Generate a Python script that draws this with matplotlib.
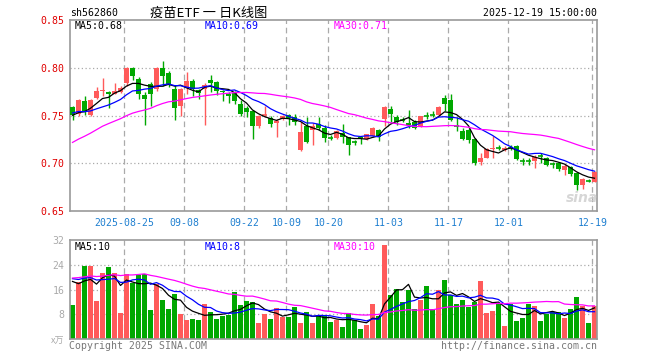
import matplotlib
matplotlib.use('Agg')
import matplotlib.pyplot as plt
import numpy as np
import pandas as pd

# ---------------- data ----------------
symbol = "sh562860"
title = "疫苗ETF 一 日K线图"
timestamp = "2025-12-19 15:00:00"

opens = [0.759, 0.752, 0.765, 0.751, 0.768, 0.776, 0.775, 0.773, 0.775, 0.784,
         0.800, 0.788, 0.771, 0.783, 0.778, 0.800, 0.795, 0.778, 0.760, 0.779,
         0.786, 0.777, 0.778, 0.7875, 0.785, 0.776, 0.7725, 0.7735, 0.762, 0.758,
         0.755, 0.7385, 0.750, 0.7473, 0.742, 0.7465, 0.750, 0.748, 0.714, 0.7392,
         0.735, 0.741, 0.7368, 0.7265, 0.7262, 0.7315, 0.727, 0.7225, 0.728, 0.7255,
         0.729, 0.735, 0.7465, 0.757, 0.748, 0.7458, 0.742, 0.743, 0.7395, 0.7495,
         0.7508, 0.7507, 0.7683, 0.7665, 0.739, 0.734, 0.735, 0.7255, 0.7017, 0.7059,
         0.715, 0.7168, 0.714, 0.7168, 0.718, 0.7028, 0.7028, 0.7027, 0.708, 0.706,
         0.6995, 0.700, 0.693, 0.6965, 0.690, 0.6772, 0.6822, 0.6807]
closes = [0.751, 0.766, 0.754, 0.766, 0.776, 0.777, 0.772, 0.776, 0.779, 0.800,
          0.791, 0.772, 0.767, 0.773, 0.800, 0.791, 0.782, 0.758, 0.778, 0.786,
          0.778, 0.7735, 0.782, 0.784, 0.776, 0.7746, 0.770, 0.7655, 0.7515, 0.7536,
          0.7385, 0.750, 0.7505, 0.741, 0.7444, 0.750, 0.7475, 0.7437, 0.7332, 0.7227,
          0.7385, 0.7374, 0.726, 0.726, 0.734, 0.728, 0.7192, 0.722, 0.7262, 0.7304,
          0.7374, 0.727, 0.7584, 0.7515, 0.7437, 0.7455, 0.740, 0.7374, 0.749, 0.749,
          0.7505, 0.7584, 0.762, 0.7455, 0.7385, 0.7255, 0.7245, 0.700, 0.7059, 0.715,
          0.7164, 0.7164, 0.7164, 0.7164, 0.7045, 0.7024, 0.7024, 0.707, 0.7075, 0.6982,
          0.699, 0.6937, 0.6972, 0.6885, 0.677, 0.6832, 0.6818, 0.6912]
highs = [0.760, 0.767, 0.770, 0.767, 0.780, 0.789, 0.776, 0.784, 0.781, 0.801,
         0.801, 0.790, 0.775, 0.785, 0.801, 0.807, 0.797, 0.782, 0.779, 0.796,
         0.788, 0.778, 0.784, 0.792, 0.786, 0.777, 0.775, 0.776, 0.766, 0.760,
         0.756, 0.751, 0.7595, 0.750, 0.746, 0.751, 0.752, 0.752, 0.743, 0.748,
         0.742, 0.748, 0.740, 0.730, 0.735, 0.741, 0.728, 0.7245, 0.729, 0.731,
         0.738, 0.736, 0.760, 0.760, 0.751, 0.748, 0.756, 0.745, 0.750, 0.754,
         0.755, 0.760, 0.7717, 0.772, 0.748, 0.737, 0.737, 0.726, 0.7105, 0.716,
         0.729, 0.719, 0.718, 0.719, 0.719, 0.705, 0.705, 0.709, 0.711, 0.707,
         0.701, 0.701, 0.699, 0.697, 0.691, 0.6845, 0.6838, 0.692]
lows = [0.745, 0.749, 0.751, 0.749, 0.767, 0.770, 0.758, 0.772, 0.774, 0.781,
        0.787, 0.767, 0.740, 0.760, 0.776, 0.781, 0.780, 0.745, 0.749, 0.772,
        0.770, 0.767, 0.740, 0.775, 0.771, 0.7655, 0.763, 0.762, 0.749, 0.748,
        0.725, 0.737, 0.748, 0.738, 0.728, 0.745, 0.740, 0.740, 0.713, 0.721,
        0.719, 0.735, 0.722, 0.724, 0.725, 0.721, 0.7087, 0.7195, 0.720, 0.724,
        0.728, 0.723, 0.739, 0.743, 0.740, 0.743, 0.737, 0.736, 0.738, 0.746,
        0.748, 0.750, 0.7542, 0.744, 0.734, 0.7245, 0.721, 0.698, 0.698, 0.705,
        0.7055, 0.714, 0.713, 0.714, 0.703, 0.698, 0.698, 0.6947, 0.700, 0.697,
        0.695, 0.692, 0.688, 0.687, 0.672, 0.6735, 0.6805, 0.680]
volumes = [11.0, 18.4, 23.5, 23.5, 12.3, 21.3, 23.2, 21.3, 8.4, 21.1,
           18.1, 20.6, 21.1, 9.4, 17.8, 12.7, 9.7, 14.6, 8.0, 6.2,
           6.5, 6.2, 11.4, 8.7, 6.5, 7.3, 7.8, 15.3, 11.0, 12.3,
           11.9, 5.1, 8.1, 6.5, 10.1, 7.2, 7.2, 10.5, 5.1, 8.7,
           5.1, 7.8, 7.6, 5.6, 6.2, 4.0, 8.3, 6.2, 3.2, 4.5,
           11.4, 7.3, 30.3, 14.1, 16.2, 11.8, 15.9, 9.7, 12.7, 17.0,
           9.7, 15.9, 19.2, 14.3, 11.4, 12.7, 10.5, 11.8, 18.8, 8.5,
           9.1, 11.4, 4.3, 11.4, 5.8, 6.7, 11.4, 10.8, 5.8, 8.0,
           8.7, 8.7, 6.7, 9.7, 13.7, 10.8, 5.3, 10.8]
# closes / volumes of the 29 sessions before the window (only feed the moving averages)
prior_closes = [0.662, 0.665, 0.668, 0.667, 0.668, 0.690, 0.698, 0.702, 0.706, 0.712,
                0.718, 0.722, 0.720, 0.717, 0.723, 0.728, 0.735, 0.740, 0.745, 0.742,
                0.750, 0.756, 0.758, 0.754, 0.757, 0.752, 0.749, 0.748, 0.751]
prior_volumes = [14, 16, 15, 18, 17, 15, 16, 17, 15, 18, 16, 15,
                 24, 28, 26, 23, 27, 25, 26, 25,
                 21, 19, 22, 20, 20, 22, 19, 21, 20]
tick_dates = ["2025-08-25", "2025-09-08", "2025-09-22", "2025-10-09", "2025-10-20",
              "2025-11-03", "2025-11-17", "2025-12-01", "2025-12-19"]
price_ticks = [0.65, 0.70, 0.75, 0.80, 0.85]
vol_ticks = [8, 16, 24, 32]
price_ma_text = ["MA5:0.68", "MA10:0.69", "MA30:0.71"]
vol_ma_text = ["MA5:10", "MA10:8", "MA30:10"]

# trading calendar (weekdays, minus the National Day holiday)
days = pd.bdate_range("2025-08-12", "2025-12-19")
days = [d for d in days if not (pd.Timestamp("2025-10-01") <= d <= pd.Timestamp("2025-10-08"))]
day_str = [d.strftime("%Y-%m-%d") for d in days]

# ---------------- style ----------------
RED = "#ff5a5a"
GREEN = "#00a800"
GRID = "#aaaaaa"
FRAME = "#999999"
MONO = "DejaVu Sans Mono"
FS = 7.1

W, H = 660, 360
fig = plt.figure(figsize=(W / 100, H / 100), dpi=100)
fig.patch.set_facecolor("white")

def fx(x):
    return x / W

def fy(y):
    return 1 - y / H

n = len(closes)
ax = fig.add_axes([fx(70), fy(211), 527 / W, 191 / H])
axv = fig.add_axes([fx(70), fy(339), 527 / W, 99 / H])

o = np.array(opens); c = np.array(closes); hi = np.array(highs); lo = np.array(lows)
v = np.array(volumes)
idx = np.arange(n)
bw = 5 / 6
xc = idx + bw / 2

def ma(series, prior, k):
    full = np.concatenate([np.array(prior, float), series])
    out = np.convolve(full, np.ones(k) / k, mode="valid")
    return out[-len(series):]

up = c >= o
cols = np.where(up, RED, GREEN)

for a in (ax, axv):
    a.set_xlim(0, 527 / 6)
    for s in a.spines.values():
        s.set_color(FRAME)
        s.set_linewidth(1.2)
    a.tick_params(length=0)

# vertical dashed grid
tick_idx = [day_str.index(d) for d in tick_dates]
for a in (ax, axv):
    for t in tick_idx:
        a.axvline(t + 0.05, color=GRID, lw=0.9, dashes=(4.5, 3), zorder=0)

# price panel
ax.set_ylim(0.65, 0.85)
for yv in price_ticks[1:-1]:
    ax.axhline(yv, color=GRID, lw=0.9, dashes=(1, 2), zorder=0)
ax.vlines(xc, lo, hi, colors=cols, lw=1.0, zorder=2)
body = np.abs(c - o)
flat = body < 0.0008
ax.bar(idx[~flat], body[~flat], bottom=np.minimum(o, c)[~flat], width=bw,
       align="edge", color=cols[~flat], lw=0, zorder=3)
ax.hlines(c[flat], idx[flat], idx[flat] + bw, colors=cols[flat], lw=1.2, zorder=3)
ax.plot(xc, ma(c, prior_closes, 5), color="black", lw=0.9, zorder=4)
ax.plot(xc, ma(c, prior_closes, 10), color="#0000ff", lw=0.9, zorder=4)
ax.plot(xc, ma(c, prior_closes, 30), color="#ff00ff", lw=0.9, zorder=4)

ax.set_yticks(price_ticks)
ax.set_yticklabels([f"{t:.2f}" for t in price_ticks], color="#e00000",
                   family=MONO, fontsize=FS)
ax.tick_params(axis="y", pad=4)
ax.set_xticks([t + 0.05 for t in tick_idx])
ax.set_xticklabels([tick_dates[0]] + [d[5:] for d in tick_dates[1:]],
                   color="#1e7fd0", family=MONO, fontsize=FS)
ax.tick_params(axis="x", pad=5)

# volume panel
axv.set_ylim(0, 32)
for yv in vol_ticks[:-1]:
    axv.axhline(yv, color=GRID, lw=0.9, dashes=(1, 2), zorder=0)
axv.bar(idx, v, width=bw, align="edge", color=cols, lw=0, zorder=2)
axv.plot(xc, ma(v, prior_volumes, 5), color="black", lw=0.9, zorder=4)
axv.plot(xc, ma(v, prior_volumes, 10), color="#0000ff", lw=0.9, zorder=4)
axv.plot(xc, ma(v, prior_volumes, 30), color="#ff00ff", lw=0.9, zorder=4)
axv.set_yticks(vol_ticks)
axv.set_yticklabels([str(t) for t in vol_ticks], color="#aaaaaa", family=MONO, fontsize=FS)
axv.tick_params(axis="y", pad=4)
axv.set_xticks([])

# texts
ma_cols = ["black", "#0000ff", "#ff00ff"]
ma_x = [75, 205, 334]
for t, col, x in zip(price_ma_text, ma_cols, ma_x):
    fig.text(fx(x), fy(26), t, color=col, family=MONO, fontsize=FS, va="center", ha="left")
for t, col, x in zip(vol_ma_text, ma_cols, ma_x):
    fig.text(fx(x), fy(247), t, color=col, family=MONO, fontsize=FS, va="center", ha="left")

fig.text(fx(70), fy(13), symbol, color="black", family=MONO, fontsize=FS, va="center", ha="left")
fig.text(fx(150), fy(13), title, color="black", family=["Noto Sans CJK SC", "DejaVu Sans"],
         fontsize=9.5, va="center", ha="left")
fig.text(fx(597), fy(13), timestamp, color="black", family=MONO, fontsize=FS, va="center", ha="right")
fig.text(fx(69), fy(346), "Copyright 2025 SINA.COM", color="#777777", family=MONO,
         fontsize=FS, va="center", ha="left")
fig.text(fx(597), fy(346), "http://finance.sina.com.cn", color="#777777", family=MONO,
         fontsize=FS, va="center", ha="right")
fig.text(fx(64), fy(341), "x万", color="#aaaaaa", family=["Noto Sans CJK SC", "DejaVu Sans"],
         fontsize=6.5, va="center", ha="right", style="italic")
fig.text(fx(582), fy(198), "sina", color="#cccccc", family="DejaVu Sans", fontsize=10,
         fontweight="bold", style="italic", va="center", ha="center", alpha=0.8)

fig.savefig("out.png", dpi=100, facecolor="white")
